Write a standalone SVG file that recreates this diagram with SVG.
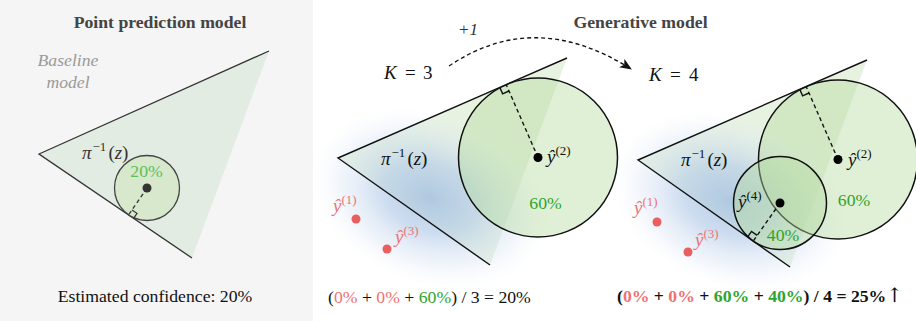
<svg xmlns="http://www.w3.org/2000/svg" width="916" height="321" viewBox="0 0 916 321">
<defs>
<style>
.t{font-family:"Liberation Serif","Times New Roman",serif;}
.title{font-family:"Liberation Serif",serif;font-weight:bold;font-size:17.7px;fill:#444;text-anchor:middle;}
.m{font-family:"Liberation Serif",serif;font-style:italic;font-size:19px;fill:#111;}
.up{font-family:"Liberation Serif",serif;font-style:normal;font-size:19px;fill:#111;}
.sup{font-style:normal;font-size:13px;}
.pct{font-family:"Liberation Serif",serif;font-size:17.7px;fill:#2ea52e;text-anchor:middle;}
.red{fill:#f07272;}
.grn{fill:#2ea52e;}
.edge{stroke:#111;stroke-width:1.4;fill:none;}
.dash{stroke:#111;stroke-width:1.4;stroke-dasharray:4 3;fill:none;}
.ra{stroke:#111;stroke-width:1.4;fill:none;}
.circ{fill:#b6dc9e;fill-opacity:0.42;stroke:#111;stroke-width:1.5;}
.rdot{fill:#e95f5f;}
</style>
<radialGradient id="blob" cx="0.5" cy="0.5" r="0.5">
<stop offset="0" stop-color="#a2bee0" stop-opacity="1"/>
<stop offset="0.4" stop-color="#b2cae8" stop-opacity="0.8"/>
<stop offset="0.75" stop-color="#d3e0f2" stop-opacity="0.4"/>
<stop offset="1" stop-color="#e8eff8" stop-opacity="0"/>
</radialGradient>
<marker id="ah" viewBox="0 0 12 10" refX="11" refY="5" markerWidth="12" markerHeight="10" markerUnits="userSpaceOnUse" orient="auto">
<path d="M0,0 L12,5 L0,10 L3,5 Z" fill="#111"/>
</marker>
</defs>

<rect x="0" y="0" width="916" height="321" fill="#ffffff"/>
<rect x="0" y="0" width="313" height="321" fill="#f5f5f5"/>

<!-- Left panel -->
<g id="left-panel">
<text class="title" x="160" y="28">Point prediction model</text>
<text class="t" x="68" y="66" font-size="17.7" font-style="italic" fill="#9a9a9a" text-anchor="middle">Baseline</text>
<text class="t" x="68" y="88" font-size="17.7" font-style="italic" fill="#9a9a9a" text-anchor="middle">model</text>
<polygon points="39,154 269,51 192,258" fill="#e3ece2"/>
<polyline points="269,51 39,154 192,258" stroke="#333" stroke-width="1.3" fill="none"/>
<text class="m" x="82" y="159" style="fill:#333">π<tspan class="sup" dx="1" dy="-8">−1</tspan><tspan class="up" dx="2" dy="8" style="fill:#333">(</tspan>z<tspan class="up" style="fill:#333">)</tspan></text>
<circle cx="147" cy="188" r="32.5" fill="#d7e8cd" stroke="#444" stroke-width="1.3"/>
<text class="pct" x="146.5" y="177" style="fill:#5cc05c">20%</text>
<line x1="147" y1="188" x2="128.6" y2="214.9" stroke="#333" stroke-width="1.3" stroke-dasharray="4 3"/>
<polyline points="133.6,218.3 137,213.3 132,209.9" stroke="#333" stroke-width="1.2" fill="none"/>
<circle cx="147" cy="188" r="4.5" fill="#333"/>
<text class="t" x="155" y="302" font-size="17.7" fill="#111" text-anchor="middle">Estimated confidence: 20%</text>
</g>

<text class="title" x="640.5" y="28">Generative model</text>

<!-- connector: +1 arc -->
<g id="connectors">
<path d="M449,66 Q535,8 631,69" class="dash" marker-end="url(#ah)"/>
<text class="t" x="458" y="35" font-size="17" font-style="italic" fill="#333">+1</text>
</g>

<!-- Middle panel K=3 -->
<g id="k3-panel">
<polygon points="338,158 567,58 490,265" fill="#d4e8c8" fill-opacity="0.55"/>
<ellipse cx="430" cy="198" rx="122" ry="85" transform="rotate(20 430 198)" fill="url(#blob)" opacity="0.8"/>
<polyline points="567,58 338,158 490,265" class="edge"/>
<text x="384" y="79" class="m">K</text>
<text x="405" y="79" class="up">=</text>
<text x="423" y="79" class="up">3</text>
<text class="m" x="381" y="165">π<tspan class="sup" dx="1" dy="-8">−1</tspan><tspan class="up" dx="2" dy="8">(</tspan>z<tspan class="up">)</tspan></text>
<circle cx="538" cy="157.5" r="79.5" class="circ"/>
<line x1="538" y1="157.5" x2="506.2" y2="84.6" class="dash"/>
<polyline points="499.8,87.4 502.6,93.8 509,91" class="ra"/>
<circle cx="538" cy="157.5" r="4.5" fill="#000"/>
<text class="m" x="547" y="163">ŷ<tspan class="sup" dy="-8">(2)</tspan></text>
<text class="pct" x="545.5" y="209">60%</text>
<circle cx="356" cy="219" r="4.5" class="rdot"/>
<circle cx="387" cy="249" r="4.5" class="rdot"/>
<text class="m red" x="333" y="212">ŷ<tspan class="sup" dy="-8">(1)</tspan></text>
<text class="m red" x="395" y="243">ŷ<tspan class="sup" dy="-8">(3)</tspan></text>
<text class="t" x="328" y="303" font-size="17.7" fill="#111">(<tspan class="red">0%</tspan> + <tspan class="red">0%</tspan> + <tspan class="grn">60%</tspan>) / 3 = 20%</text>
</g>

<!-- Right panel K=4 -->
<g id="k4-panel">
<polygon points="638,160 867,60 790,267" fill="#d4e8c8" fill-opacity="0.55"/>
<ellipse cx="730" cy="201" rx="122" ry="85" transform="rotate(20 730 201)" fill="url(#blob)" opacity="0.8"/>
<polyline points="867,60 638,160 790,267" class="edge"/>
<text x="649" y="81" class="m">K</text>
<text x="670" y="81" class="up">=</text>
<text x="689" y="81" class="up">4</text>
<text class="m" x="681" y="166">π<tspan class="sup" dx="1" dy="-8">−1</tspan><tspan class="up" dx="2" dy="8">(</tspan>z<tspan class="up">)</tspan></text>
<circle cx="838" cy="159.5" r="79.5" class="circ"/>
<circle cx="780" cy="203" r="46.5" class="circ"/>
<line x1="838" y1="159.5" x2="806.2" y2="86.6" class="dash"/>
<polyline points="799.8,89.4 802.6,95.8 809,93" class="ra"/>
<line x1="780" y1="203" x2="753.2" y2="241.1" class="dash"/>
<polyline points="747.5,237.1 751.5,231.4 757.2,235.4" class="ra"/>
<circle cx="838" cy="159.5" r="4.5" fill="#000"/>
<circle cx="780" cy="203" r="4.5" fill="#000"/>
<text class="m" x="848" y="166">ŷ<tspan class="sup" dy="-8">(2)</tspan></text>
<text class="m" x="738" y="208">ŷ<tspan class="sup" dy="-8">(4)</tspan></text>
<text class="pct" x="854" y="206">60%</text>
<text class="pct" x="783" y="241">40%</text>
<circle cx="657" cy="222" r="4.5" class="rdot"/>
<circle cx="688" cy="252" r="4.5" class="rdot"/>
<text class="m red" x="634" y="214">ŷ<tspan class="sup" dy="-8">(1)</tspan></text>
<text class="m red" x="695" y="246">ŷ<tspan class="sup" dy="-8">(3)</tspan></text>
<text class="t" x="617" y="302" font-size="17.7" font-weight="bold" fill="#111">(<tspan class="red">0%</tspan> + <tspan class="red">0%</tspan> + <tspan class="grn">60%</tspan> + <tspan class="grn">40%</tspan>) / 4 = 25%<tspan font-family="DejaVu Serif" font-weight="normal" font-size="20">↑</tspan></text>
</g>
</svg>
